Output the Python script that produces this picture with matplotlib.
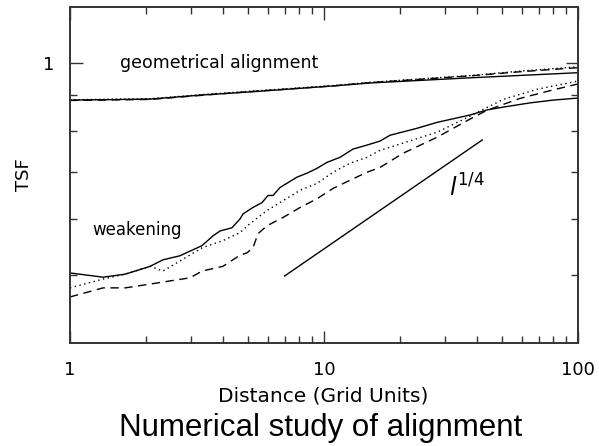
import matplotlib
matplotlib.use("Agg")
import matplotlib.pyplot as plt
from matplotlib.ticker import FixedLocator, NullFormatter, FixedFormatter

# weakening curves
weak_solid_x = [1.0, 1.35, 1.65, 2.07, 2.32, 2.71, 3.31, 3.66, 3.90, 4.34, 4.67, 4.80, 5.25, 5.70,
                6.02, 6.30, 6.71, 7.83, 8.57, 9.38, 10.27, 11.56, 13.0, 14.76, 16.6, 18.2, 23.2,
                27.9, 37.6, 43.8, 50.7, 64.7, 79.7, 100]
weak_solid_y = [0.503, 0.496, 0.501, 0.514, 0.525, 0.532, 0.550, 0.568, 0.577, 0.583, 0.600, 0.610,
                0.623, 0.633, 0.648, 0.648, 0.665, 0.688, 0.697, 0.708, 0.722, 0.734, 0.754, 0.764,
                0.774, 0.789, 0.807, 0.823, 0.843, 0.857, 0.865, 0.877, 0.885, 0.891]

weak_dot_x = [1.0, 1.35, 1.65, 2.07, 2.32, 2.71, 3.31, 4.00, 4.67, 5.11, 5.97, 6.90, 8.05, 9.38,
              10.85, 12.65, 14.76, 16.6, 20.5, 27.9, 37.6, 50.7, 69.0, 100]
weak_dot_y = [0.479, 0.493, 0.501, 0.514, 0.506, 0.523, 0.546, 0.559, 0.574, 0.591, 0.617, 0.637,
              0.659, 0.674, 0.699, 0.720, 0.734, 0.751, 0.769, 0.797, 0.840, 0.887, 0.917, 0.942]

weak_dash_x = [1.0, 1.35, 1.65, 2.07, 2.475, 2.968, 3.31, 4.00, 4.67, 4.97, 5.25, 5.50, 5.97, 6.90,
               8.05, 9.38, 10.85, 12.65, 14.76, 16.6, 20.5, 27.9, 37.6, 43.8, 59.1, 79.7, 100]
weak_dash_y = [0.465, 0.479, 0.479, 0.485, 0.490, 0.495, 0.506, 0.514, 0.533, 0.537, 0.546, 0.572,
               0.587, 0.603, 0.623, 0.641, 0.663, 0.681, 0.699, 0.710, 0.744, 0.784, 0.832, 0.856,
               0.890, 0.915, 0.933]

# geometrical alignment curves
geo_solid_x = [1.0, 2.07, 3.31, 5.11, 10.85, 15.17, 37.6, 100]
geo_solid_y = [0.885, 0.888, 0.900, 0.909, 0.927, 0.936, 0.952, 0.968]
geo_dash_x = [1.0, 2.07, 3.31, 5.11, 10.85, 15.17, 37.6, 59.1, 100]
geo_dash_y = [0.884, 0.887, 0.899, 0.910, 0.927, 0.937, 0.958, 0.971, 0.984]
geo_dot_x = [1.0, 2.07, 3.31, 5.11, 10.85, 15.17, 37.6, 59.1, 100]
geo_dot_y = [0.886, 0.889, 0.901, 0.911, 0.928, 0.938, 0.959, 0.973, 0.987]

# l^(1/4) reference line
ref_x = [7.0, 42.0]
ref_y = [0.498, 0.777]

fig = plt.figure(figsize=(5.99, 4.46), dpi=100)
ax = fig.add_axes([70 / 599, 1 - 343 / 446, 508 / 599, 336 / 446])

lw = 1.0
ax.plot(geo_solid_x, geo_solid_y, color="black", lw=lw)
ax.plot(geo_dash_x, geo_dash_y, color="black", lw=lw, linestyle=(0, (6, 4)))
ax.plot(geo_dot_x, geo_dot_y, color="black", lw=lw, linestyle=(0, (1, 2)))
ax.plot(weak_solid_x, weak_solid_y, color="black", lw=lw)
ax.plot(weak_dot_x, weak_dot_y, color="black", lw=lw, linestyle=(0, (1, 2.5)))
ax.plot(weak_dash_x, weak_dash_y, color="black", lw=lw, linestyle=(0, (6, 4)))
ax.plot(ref_x, ref_y, color="black", lw=lw)

ax.set_xscale("log")
ax.set_yscale("log")
ax.set_xlim(1, 100)
ax.set_ylim(0.4, 1.2)

ax.xaxis.set_major_locator(FixedLocator([1, 10, 100]))
ax.xaxis.set_major_formatter(FixedFormatter(["1", "10", "100"]))
ax.xaxis.set_minor_locator(FixedLocator([2, 3, 4, 5, 6, 7, 8, 9, 20, 30, 40, 50, 60, 70, 80, 90]))
ax.xaxis.set_minor_formatter(NullFormatter())
ax.yaxis.set_major_locator(FixedLocator([1]))
ax.yaxis.set_major_formatter(FixedFormatter(["1"]))
ax.yaxis.set_minor_locator(FixedLocator([0.5, 0.6, 0.7, 0.8, 0.9]))
ax.yaxis.set_minor_formatter(NullFormatter())

ax.tick_params(which="both", direction="in", top=True, right=True, color="#333333", width=1)
ax.tick_params(which="major", length=9, labelsize=13)
ax.tick_params(which="minor", length=5)
ax.tick_params(axis="x", which="major", pad=13)
ax.tick_params(axis="y", which="major", pad=11)
for sp in ax.spines.values():
    sp.set_linewidth(1.4)
    sp.set_color("#333333")

ax.text(1.57, 1.0, "geometrical alignment", fontsize=12.5, va="center", ha="left")
ax.text(1.22, 0.578, "weakening", fontsize=12, va="center", ha="left")
ax.text(31, 0.665, r"$l^{1/4}$", fontsize=17, va="center", ha="left")

fig.text(24 / 599, 1 - 175 / 446, "TSF", rotation=90, fontsize=13, ha="center", va="center")
fig.text(323 / 599, 1 - 396 / 446, "Distance (Grid Units)", fontsize=14.5, ha="center", va="center")
fig.text(321 / 599, 1 - 428 / 446, "Numerical study of alignment", fontsize=22.5,
         family="Liberation Sans", ha="center", va="center")

fig.savefig("out.png", dpi=100)
